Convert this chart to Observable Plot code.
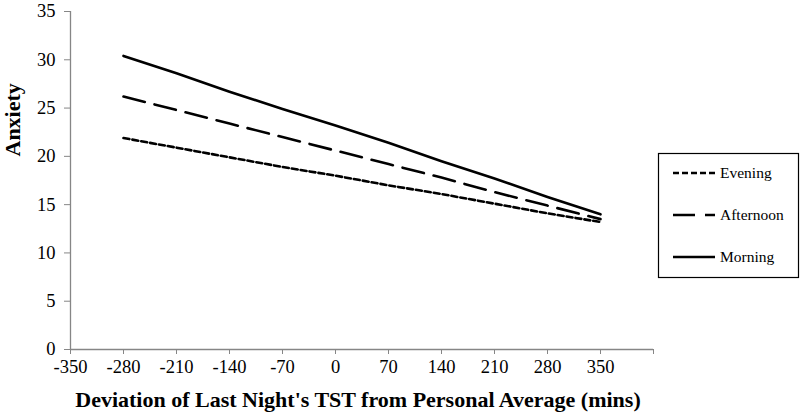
<!DOCTYPE html>
<html>
<head>
<meta charset="utf-8">
<script src="https://cdn.jsdelivr.net/npm/d3@7"></script>
<script src="https://cdn.jsdelivr.net/npm/@observablehq/plot@0.6"></script>
<style>
  body { margin: 0; background: #fff; font-family: "Liberation Serif", serif; }
  #chart { position: relative; width: 800px; height: 420px; }
</style>
</head>
<body>
<div id="chart"></div>
<script>
const xValues = [-280, -210, -140, -70, 0, 70, 140, 210, 280, 350];
const morning = [30.4, 28.6, 26.7, 24.9, 23.2, 21.4, 19.5, 17.7, 15.8, 14.0];
const afternoon = [26.2, 24.8, 23.4, 22.0, 20.6, 19.2, 17.8, 16.3, 14.9, 13.5];
const evening = [21.9, 20.9, 19.9, 18.9, 18.0, 17.0, 16.1, 15.1, 14.1, 13.2];
const seriesNames = ["Evening", "Afternoon", "Morning"];
const xTicks = [-350, -280, -210, -140, -70, 0, 70, 140, 210, 280, 350, 420];
const xTickLabels = ["-350", "-280", "-210", "-140", "-70", "0", "70", "140", "210", "280", "350", ""];
const yTicks = [0, 5, 10, 15, 20, 25, 30, 35];
const xTitle = "Deviation of Last Night's TST from Personal Average (mins)";
const yTitle = "Anxiety";

const dashes = {Evening: "6,3", Afternoon: "22,10", Morning: null};
const seriesValues = {Evening: evening, Afternoon: afternoon, Morning: morning};
const rows = name => xValues.map((x, i) => ({x, y: seriesValues[name][i], series: name}));

const axisColor = "#868686";
const font = "Liberation Serif, serif";

const plot = Plot.plot({
  width: 800,
  height: 420,
  marginLeft: 70,
  marginRight: 147,
  marginTop: 11,
  marginBottom: 71,
  style: {fontFamily: font, fontSize: "16px", color: "#000", background: "#fff"},
  x: {domain: [-350, 420]},
  y: {domain: [0, 35]},
  marks: [
    Plot.ruleX([-350], {y1: 0, y2: 35, stroke: axisColor, strokeWidth: 1.3}),
    Plot.ruleY([0], {stroke: axisColor, strokeWidth: 1.3}),
    Plot.axisX({
      ticks: xTicks,
      tickFormat: d => xTickLabels[xTicks.indexOf(d)],
      tickSize: 5,
      tickPadding: 5,
      stroke: axisColor,
      label: null,
      fontSize: 18.5,
      fill: "#000"
    }),
    Plot.axisY({
      ticks: yTicks,
      tickSize: 6,
      tickPadding: 9,
      stroke: axisColor,
      label: null,
      fontSize: 18.5,
      fill: "#000"
    }),
    ...seriesNames.map(name => Plot.lineY(rows(name), {
      x: "x", y: "y",
      stroke: "#000",
      strokeWidth: 2.6,
      strokeDasharray: dashes[name]
    })),
    Plot.text([xTitle], {
      text: d => d, frameAnchor: "bottom", dy: 57, dx: -4,
      fontSize: 22, fontWeight: "bold", fill: "#000"
    }),
    Plot.text([yTitle], {
      text: d => d, frameAnchor: "left", dx: -58, dy: -24, rotate: -90,
      fontSize: 22, fontWeight: "bold", fill: "#000"
    })
  ]
});

// Legend drawn into the same SVG
const svg = d3.select(plot);
const lg = svg.append("g").attr("font-size", 15.5).attr("text-anchor", "start");
lg.append("rect")
  .attr("x", 658.5).attr("y", 153.5).attr("width", 140).attr("height", 124)
  .attr("fill", "#fff").attr("stroke", "#000").attr("stroke-width", 1.2);
seriesNames.forEach((name, i) => {
  const y = 173 + i * 42;
  lg.append("line")
    .attr("x1", 673).attr("x2", 715).attr("y1", y).attr("y2", y)
    .attr("stroke", "#000").attr("stroke-width", 2.6)
    .attr("stroke-dasharray", dashes[name] || null);
  lg.append("text")
    .attr("x", 720).attr("y", y).attr("dy", "0.35em").attr("fill", "#000")
    .attr("text-anchor", "start")
    .text(name);
});

svg.style("font-family", font);
svg.selectAll("text").style("font-family", font);

document.getElementById("chart").appendChild(plot);
</script>
</body>
</html>
